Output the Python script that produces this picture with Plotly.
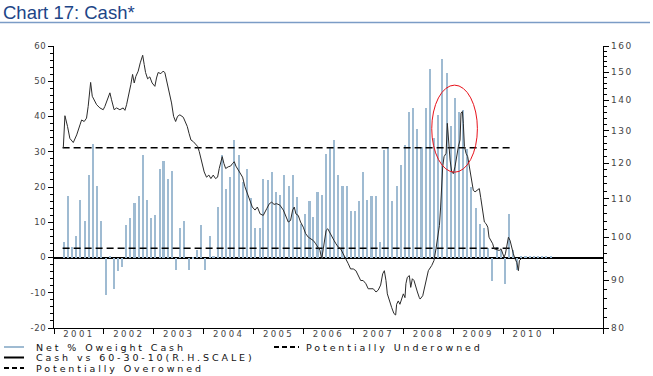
import math
import pandas as pd
import plotly.graph_objects as go

# ---------------- data ----------------
BAR_START = "2001-03-01"
BAR_VALUES = [
    # 2001 Mar..Dec
    4.3, 17.4, 3.1, 6.2, 16.4, 10.4, 23.5, 32.3, 20.4, 10.4,
    # 2002
    -10.7, 0.5, -8.8, -3.8, -2.8, 9.3, 11.2, 15.4, 17.4, 29.2, 16.4, 11.2,
    # 2003
    12.2, 25.2, 27.3, 22.3, 24.4, -3.6, 8.4, 10.4, -3.5, -0.5, 2.2, 9.3,
    # 2004
    -3.6, 6.2, 0.5, 14.2, 29.2, 19.5, 22.8, 33.2, 29.0, 21.4, 25.0, 17.0,
    # 2005
    8.5, 8.3, 22.3, 22.0, 24.2, 18.5, 17.6, 23.3, 20.4, 23.3, 17.1, 9.5,
    # 2006
    12.3, 16.1, 11.4, 18.5, 17.6, 29.4, 31.3, 33.4, 23.3, 20.4, 20.4, 13.3,
    # 2007
    13.3, 15.9, 24.2, 16.3, 17.4, 17.4, 4.3, 30.4, 31.3, 15.9, 20.4, 26.3,
    # 2008
    32.0, 41.3, 42.3, 36.4, 31.3, 42.4, 53.4, 34.0, 40.4, 56.3, 52.4, 37.3,
    # 2009
    45.3, 41.3, 41.8, 30.9, 19.9, 14.0, 9.5, 8.5, 2.8, -6.6, 3.0, 2.0,
    # 2010
    -7.6, 12.3, 2.0, -3.6, 0.4, 0.4, 0.4, 0.4, 0.4, 0.4, 0.4, 0.4,
]

LINE_DATES = [
    "2001-03-10", "2001-03-22", "2001-04-10", "2001-04-27", "2001-05-22", "2001-06-16",
    "2001-07-10", "2001-07-22", "2001-08-10", "2001-08-27", "2001-09-08", "2001-09-26",
    "2001-10-08", "2001-10-23", "2001-11-09", "2001-12-03", "2001-12-27", "2002-01-08",
    "2002-01-28", "2002-02-14", "2002-02-26", "2002-03-17", "2002-04-04", "2002-04-28",
    "2002-05-22", "2002-06-04", "2002-06-16", "2002-07-03", "2002-07-17", "2002-07-30",
    "2002-08-11", "2002-08-23", "2002-09-09", "2002-09-24", "2002-10-12", "2002-10-23",
    "2002-11-02", "2002-11-17", "2002-12-03", "2002-12-20", "2003-01-09", "2003-01-21",
    "2003-02-02", "2003-02-22", "2003-03-10", "2003-03-23", "2003-04-04", "2003-04-21",
    "2003-05-11", "2003-05-26", "2003-06-10", "2003-06-24", "2003-07-11", "2003-08-05",
    "2003-08-17", "2003-09-03", "2003-09-16", "2003-09-30", "2003-10-17", "2003-11-03",
    "2003-11-18", "2003-11-30", "2003-12-12", "2003-12-24", "2004-01-05", "2004-01-22",
    "2004-02-08", "2004-02-23", "2004-03-11", "2004-03-28", "2004-04-12", "2004-04-24",
    "2004-05-06", "2004-05-16", "2004-05-28", "2004-06-10", "2004-06-29", "2004-07-16",
    "2004-07-31", "2004-08-12", "2004-08-24", "2004-09-10", "2004-09-28", "2004-10-12",
    "2004-10-29", "2004-11-15", "2004-12-05", "2004-12-22",
    "2005-01-11", "2005-01-28", "2005-02-17", "2005-03-12", "2005-04-07", "2005-04-26",
    "2005-05-13", "2005-05-30", "2005-06-18", "2005-07-12", "2005-08-06", "2005-08-25",
    "2005-09-11", "2005-09-28", "2005-10-13", "2005-10-25", "2005-11-06", "2005-11-23",
    "2005-12-10", "2005-12-30", "2006-01-16", "2006-02-05", "2006-02-22", "2006-03-13",
    "2006-03-31", "2006-04-14", "2006-05-01", "2006-05-14", "2006-05-31", "2006-06-15",
    "2006-06-27", "2006-07-09", "2006-07-26", "2006-08-12", "2006-08-26", "2006-09-12",
    "2006-09-29", "2006-10-19", "2006-11-07", "2006-11-24", "2006-12-11", "2006-12-31",
    "2007-01-19", "2007-02-05", "2007-02-23", "2007-03-13", "2007-04-02", "2007-04-19",
    "2007-05-07", "2007-05-26", "2007-06-15", "2007-07-01", "2007-07-19", "2007-08-03",
    "2007-08-15", "2007-08-27", "2007-09-06", "2007-09-20", "2007-10-08", "2007-10-24",
    "2007-11-06", "2007-11-13", "2007-11-25", "2007-12-07", "2007-12-20", "2008-01-01",
    "2008-01-13", "2008-01-20", "2008-01-30", "2008-02-14", "2008-02-24", "2008-03-07",
    "2008-03-19", "2008-04-01", "2008-04-13", "2008-04-27",
    "2008-05-03", "2008-05-22", "2008-06-08", "2008-07-02", "2008-07-27", "2008-08-12",
    "2008-08-27", "2008-09-06", "2008-09-21", "2008-09-30", "2008-10-08", "2008-10-15",
    "2008-10-25", "2008-11-09", "2008-11-18", "2008-11-26", "2008-12-08", "2008-12-20",
    "2009-01-01", "2009-01-13", "2009-01-26", "2009-02-07", "2009-02-19", "2009-02-26",
    "2009-03-08", "2009-03-15", "2009-03-23", "2009-04-04", "2009-04-16", "2009-04-28",
    "2009-05-16", "2009-05-27", "2009-06-09", "2009-06-26", "2009-07-10", "2009-07-20",
    "2009-08-04", "2009-08-16", "2009-08-28", "2009-09-10", "2009-09-19", "2009-10-02",
    "2009-10-16", "2009-10-26", "2009-11-14", "2009-12-03", "2009-12-16", "2009-12-28",
    "2010-01-07", "2010-01-17", "2010-01-27", "2010-02-08", "2010-02-20", "2010-03-04",
    "2010-03-16", "2010-03-29", "2010-04-10", "2010-04-22", "2010-04-29", "2010-05-17",
]
LINE_VALUES = [
    124.5, 134.8, 131.3, 127.5, 126.2, 128.6,
    131.8, 133.4, 132.9, 134.0, 137.9, 146.3,
    141.4, 140.2, 138.5, 137.4, 136.8, 137.9,
    140.8, 142.6, 140.2, 136.8, 137.4, 136.8,
    137.4, 136.6, 138.5, 142.0, 145.5, 149.2,
    146.1, 148.5, 150.4, 153.5, 156.4, 152.9,
    149.9, 147.6, 148.3, 146.1, 144.9, 147.9,
    149.9, 149.5, 150.4, 149.9, 147.3, 143.7,
    139.1, 134.6, 132.9, 134.6, 135.1, 134.3,
    132.9, 131.3, 129.1, 127.0, 126.5, 125.7,
    125.0, 123.4, 121.4, 119.4, 117.4, 115.9,
    116.5, 115.5, 116.5, 115.5, 115.9, 118.4,
    120.9, 121.9, 119.9, 118.4, 118.9, 119.1,
    119.9, 120.4, 119.1, 117.9, 116.5, 115.9,
    113.2, 111.3, 109.5, 107.7,
    106.9, 107.7, 105.9, 105.5, 107.3, 108.6,
    109.0, 108.4, 108.6, 108.2, 106.9, 105.1,
    103.8, 104.2, 106.9, 107.7, 105.9, 105.5,
    103.8, 102.5, 100.9, 100.0, 99.6, 99.2,
    98.4, 97.6, 96.8, 94.8, 98.4, 101.7,
    102.1, 101.3, 100.0, 99.2, 98.4, 97.6,
    97.2, 96.0, 94.8, 93.7, 92.5, 92.5,
    92.1, 91.0, 89.9, 89.9, 89.2, 88.1,
    88.1, 88.1, 87.4, 87.8, 88.9, 91.4,
    92.1, 89.9, 87.0, 85.5, 84.1, 82.9,
    82.6, 84.8, 85.5, 84.8, 86.2, 87.0,
    86.2, 89.2, 90.6, 91.0, 88.4, 90.3,
    89.9, 88.4, 87.4, 86.2,
    85.9, 86.6, 89.2, 92.1, 93.3, 94.4,
    97.2, 100.0, 102.9, 107.7, 115.0, 118.9,
    121.9, 122.9, 132.3, 127.0, 120.9, 117.4,
    116.9, 118.9, 122.9, 125.0, 127.0, 135.7,
    136.2, 132.3, 125.0, 122.9, 121.9, 118.9,
    115.0, 112.2, 111.8, 112.2, 112.7, 110.3,
    106.9, 103.8, 103.4, 102.5, 100.0, 99.2,
    98.4, 97.2, 97.0, 96.8, 97.2, 96.0,
    95.2, 96.0, 98.0, 100.0, 99.2, 97.2,
    96.0, 94.8, 94.0, 92.1, 94.4, 95.0,
]

OVEROWNED_LEVEL = 31.1
UNDEROWNED_LEVEL = 2.6
THRESHOLD_SPAN = ["2001-03-05", "2010-02-28"]

LEFT_TICKS = [-20, -10, 0, 10, 20, 30, 40, 50, 60]
RIGHT_TICKS = [80, 90, 100, 110, 120, 130, 140, 150, 160]
YEAR_LABELS = ["2001", "2002", "2003", "2004", "2005", "2006", "2007", "2008", "2009", "2010"]
YEAR_BOUNDS = [str(y) for y in range(2001, 2013)]

# highlight ellipse (date span, left-axis span)
HIGHLIGHT_X = ["2008-07-27", "2009-06-26"]
HIGHLIGHT_Y = [24.2, 48.9]

# ---------------- styling ----------------
W, H = 653, 376
L, R, T, B = 54, 50, 46, 48
PW, PH = W - L - R, H - T - B
BAR_COLOR = "#9fbbd2"
LINE_COLOR = "#2b2b2b"
FONT = "DejaVu Sans"
LEG_FONT = dict(family=FONT, size=9.5, color="#111111")


def spaced(text, ls):
    return f'<span style="letter-spacing:{ls}px">{text}</span>'


def px_x(px):
    return (px - L) / PW


def px_y(py):
    return (H - B - py) / PH


bar_dates = pd.date_range(BAR_START, periods=len(BAR_VALUES), freq="MS") + pd.Timedelta(days=14)

fig = go.Figure()
fig.add_trace(go.Bar(
    x=bar_dates, y=BAR_VALUES, name="Net % Oweight Cash",
    marker=dict(color=BAR_COLOR, line=dict(width=0)),
    width=1.0e9, yaxis="y",
))
fig.add_trace(go.Scatter(
    x=THRESHOLD_SPAN, y=[OVEROWNED_LEVEL] * 2, mode="lines", name="Potentially Overowned",
    line=dict(color="black", width=1.5, dash="7px,4px"), yaxis="y",
))
fig.add_trace(go.Scatter(
    x=THRESHOLD_SPAN, y=[UNDEROWNED_LEVEL] * 2, mode="lines", name="Potentially Underowned",
    line=dict(color="black", width=1.5, dash="7px,4px"), yaxis="y",
))
fig.add_trace(go.Scatter(
    x=LINE_DATES, y=LINE_VALUES, mode="lines", name="Cash vs 60-30-10(R.H.SCALE)",
    line=dict(color=LINE_COLOR, width=1), yaxis="y2",
))

fig.update_layout(
    width=W, height=H,
    margin=dict(l=L, r=R, t=T, b=B, pad=0),
    paper_bgcolor="white", plot_bgcolor="white",
    showlegend=False, bargap=0,
    xaxis=dict(
        type="date", range=["2001-01-01", "2012-01-01"],
        tickmode="array",
        tickvals=[f"{y}-07-02" for y in YEAR_LABELS],
        ticktext=[spaced(y, 2.4) for y in YEAR_LABELS], ticks="",
        ticklabelstandoff=-2,
        tickfont=dict(family=FONT, size=8.5, color="#444444"),
        showline=True, linecolor="black", linewidth=1.2,
        showgrid=False, zeroline=False,
        minor=dict(tickmode="array", tickvals=[f"{y}-01-01" for y in YEAR_BOUNDS],
                   ticks="outside", ticklen=5, tickwidth=1, tickcolor="black", showgrid=False),
    ),
    yaxis=dict(
        range=[-20, 60], tickmode="array", tickvals=LEFT_TICKS,
        ticktext=[spaced(str(v), 0.6) for v in LEFT_TICKS],
        ticks="outside", ticklen=5, tickwidth=1, tickcolor="black",
        tickfont=dict(family=FONT, size=8.5, color="#444444"),
        showline=True, linecolor="black", linewidth=1.2, showgrid=False,
        zeroline=True, zerolinecolor="black", zerolinewidth=1.5,
        minor=dict(tickmode="array", tickvals=list(range(-20, 61, 2)),
                   ticks="outside", ticklen=3, tickwidth=1, tickcolor="black", showgrid=False),
    ),
    yaxis2=dict(
        overlaying="y", side="right", type="log",
        range=[math.log10(80), math.log10(160)],
        tickmode="array", tickvals=RIGHT_TICKS, ticktext=[spaced(str(v), 1.6) for v in RIGHT_TICKS],
        ticks="outside", ticklen=5, tickwidth=1, tickcolor="black",
        tickfont=dict(family=FONT, size=9, color="#444444"),
        showline=True, linecolor="black", linewidth=1.2, showgrid=False, zeroline=False,
        minor=dict(tickmode="array", tickvals=list(range(82, 160, 2)),
                   ticks="outside", ticklen=3, tickwidth=1, tickcolor="black", showgrid=False),
    ),
)

shapes = [
    # title underline
    dict(type="line", xref="paper", yref="paper", x0=px_x(0), x1=px_x(650),
         y0=px_y(22.5), y1=px_y(22.5), line=dict(color="#7b9cc6", width=1.5)),
    # highlight ellipse
    dict(type="circle", xref="x", yref="y", x0=HIGHLIGHT_X[0], x1=HIGHLIGHT_X[1],
         y0=HIGHLIGHT_Y[0], y1=HIGHLIGHT_Y[1], line=dict(color="#e8121b", width=1)),
]

legend_rows = [
    ("Net % Oweight Cash", 4, 24, 35, 347, dict(color=BAR_COLOR, width=2, dash="solid")),
    ("Cash vs 60-30-10(R.H.SCALE)", 4, 24, 35, 357.5, dict(color="black", width=2, dash="solid")),
    ("Potentially Overowned", 4, 24, 35, 368, dict(color="black", width=2, dash="5px,3px")),
    ("Potentially Underowned", 274, 299, 305, 347, dict(color="black", width=2, dash="5px,3px")),
]
annotations = [
    dict(text="Chart 17: Cash*", xref="paper", yref="paper", x=px_x(2), y=px_y(0.5),
         xanchor="left", yanchor="top", showarrow=False, borderpad=0,
         font=dict(family="Liberation Sans, Arial", size=18.5, color="#1d4587")),
]
for label, sx0, sx1, tx, py, ln in legend_rows:
    shapes.append(dict(type="line", xref="paper", yref="paper", x0=px_x(sx0), x1=px_x(sx1),
                       y0=px_y(py), y1=px_y(py), line=ln))
    annotations.append(dict(text=spaced(label, 2.9), xref="paper", yref="paper", x=px_x(tx), y=px_y(py),
                            xanchor="left", yanchor="middle", showarrow=False, borderpad=0,
                            font=LEG_FONT))

fig.update_layout(shapes=shapes, annotations=annotations)

fig.write_html("out.html", config={"displayModeBar": False},
               post_script="document.body.style.margin='0px';")
